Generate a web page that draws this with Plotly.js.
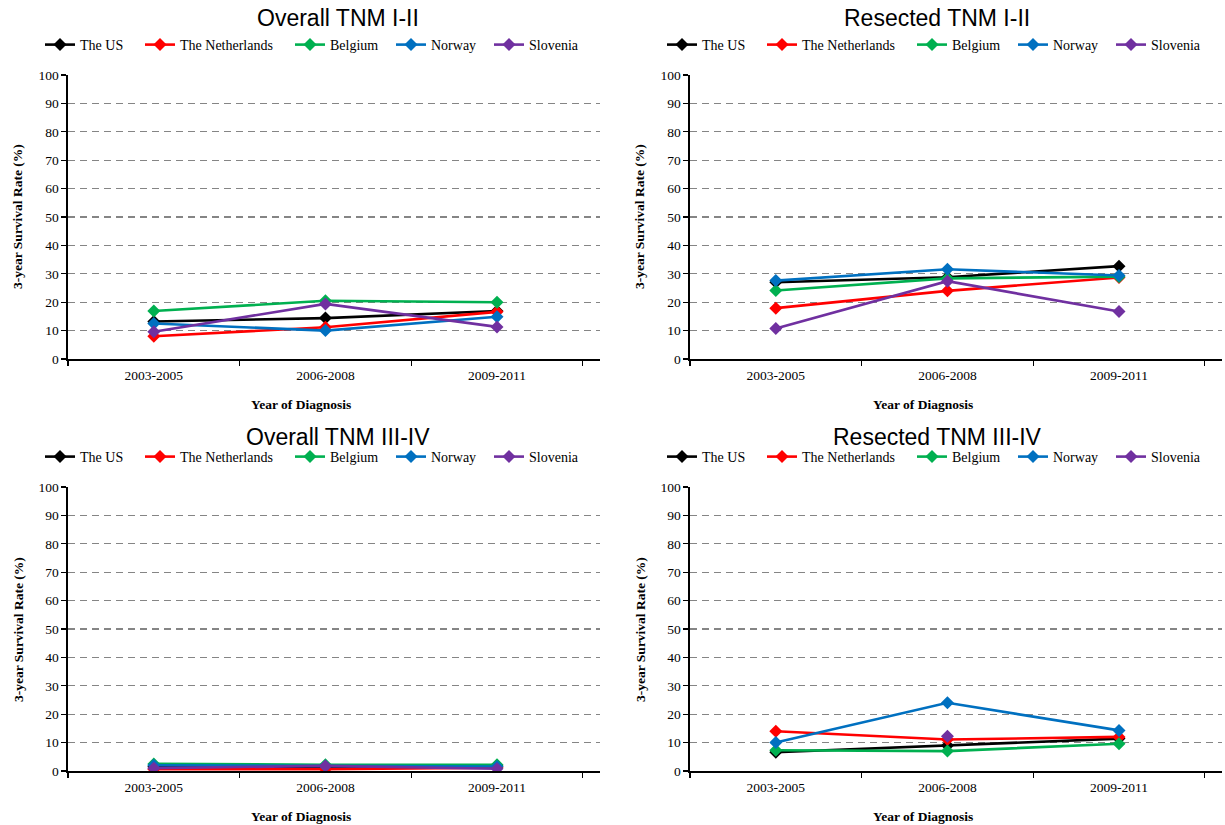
<!DOCTYPE html>
<html>
<head>
<meta charset="utf-8">
<script src="https://cdn.plot.ly/plotly-3.0.1.min.js"></script>
<style>html,body{margin:0;padding:0;background:#fff;}#chart{width:1225px;height:825px;}</style>
</head>
<body>
<div id="chart"></div>
<script>
// ---- data ----
const periods = ["2003-2005", "2006-2008", "2009-2011"];
const countries = ["The US", "The Netherlands", "Belgium", "Norway", "Slovenia"];
const colors = ["#000000", "#FF0000", "#00B050", "#0070C0", "#7030A0"];
const panelTitles = ["Overall TNM I-II", "Resected TNM I-II", "Overall TNM III-IV", "Resected TNM III-IV"];

// Overall TNM I-II
const overallI_US = [13.2, 14.4, 16.9];
const overallI_NL = [8.0, 11.2, 16.6];
const overallI_BE = [16.9, 20.5, 20.0];
const overallI_NO = [12.5, 10.0, 14.9];
const overallI_SI = [9.6, 19.4, 11.3];

// Resected TNM I-II
const resectedI_US = [27.0, 28.8, 32.7];
const resectedI_NL = [17.9, 24.0, 28.7];
const resectedI_BE = [24.1, 28.4, 29.0];
const resectedI_NO = [27.6, 31.6, 29.4];
const resectedI_SI = [10.7, 27.4, 16.7];

// Overall TNM III-IV
const overallIII_US = [1.5, 1.5, 1.8];
const overallIII_NL = [0.6, 0.6, 1.2];
const overallIII_BE = [2.5, 2.2, 2.2];
const overallIII_NO = [2.0, 1.8, 1.6];
const overallIII_SI = [1.0, 1.8, 0.8];

// Resected TNM III-IV
const resectedIII_US = [6.6, 9.0, 11.4];
const resectedIII_NL = [14.0, 11.1, 12.0];
const resectedIII_BE = [7.3, 7.0, 9.6];
const resectedIII_NO = [10.0, 24.0, 14.3];
const resectedIII_SI = [null, 12.2, null];

const panels = [
  [overallI_US, overallI_NL, overallI_BE, overallI_NO, overallI_SI],
  [resectedI_US, resectedI_NL, resectedI_BE, resectedI_NO, resectedI_SI],
  [overallIII_US, overallIII_NL, overallIII_BE, overallIII_NO, overallIII_SI],
  [resectedIII_US, resectedIII_NL, resectedIII_BE, resectedIII_NO, resectedIII_SI]
];

// ---- layout helpers ----
const W = 1225, H = 825;
const px = v => v / W;
const py = v => 1 - v / H;
const serif = "Liberation Serif, Times New Roman, serif";
const sans = "Liberation Sans, Arial, sans-serif";

const xDomains = [[px(68), px(600)], [px(690), px(1222)], [px(68), px(600)], [px(690), px(1222)]];
const yDomains = [[py(359), py(75)], [py(359), py(75)], [py(771), py(487)], [py(771), py(487)]];
const legendStartX = [40, 662, 40, 662];
const legendY = [45, 45, 457, 457];
const legendOffsets = [0, 100, 250, 351, 449];
const titlePos = [[px(338), py(18)], [px(937), py(18)], [px(338), py(437)], [px(937), py(437)]];
const yTitlePos = [[px(18), py(217)], [px(640), py(217)], [px(18), py(630)], [px(640), py(630)]];
const xTitlePos = [[px(301), py(404)], [px(923), py(404)], [px(301), py(816)], [px(923), py(816)]];

const traces = [];
const layout = {
  width: W, height: H,
  margin: {l: 0, r: 0, t: 0, b: 0},
  showlegend: true,
  paper_bgcolor: "#ffffff",
  plot_bgcolor: "#ffffff",
  font: {family: serif, size: 13, color: "#000"},
  annotations: []
};

let legendCount = 0;
panels.forEach((series, p) => {
  const sfx = p === 0 ? "" : String(p + 1);
  series.forEach((vals, i) => {
    legendCount += 1;
    const legName = "legend" + (legendCount === 1 ? "" : String(legendCount));
    traces.push({
      type: "scatter",
      mode: "lines+markers",
      x: periods,
      y: vals,
      name: countries[i],
      xaxis: "x" + sfx,
      yaxis: "y" + sfx,
      legend: legName,
      showlegend: true,
      line: {color: colors[i], width: 2.6},
      marker: {symbol: "diamond", size: 10, color: colors[i]},
      connectgaps: false,
      hoverinfo: "x+y+name"
    });
    layout[legName] = {
      orientation: "h",
      x: px(legendStartX[p] + legendOffsets[i]), y: py(legendY[p]),
      xanchor: "left", yanchor: "middle",
      xref: "paper", yref: "paper",
      font: {family: serif, size: 14, color: "#000"},
      bgcolor: "rgba(0,0,0,0)",
      itemwidth: 30,
      borderwidth: 0,
      visible: true
    };
  });
  layout["xaxis" + sfx] = {
    domain: xDomains[p],
    anchor: "y" + sfx,
    type: "category",
    range: [-0.5, 2.6],
    tickson: "boundaries",
    ticks: "outside",
    ticklen: 5,
    tickwidth: 1.3,
    tickcolor: "#000",
    ticklabelstandoff: 3,
    showline: true,
    linecolor: "#000",
    linewidth: 1.6,
    showgrid: false,
    zeroline: false,
    fixedrange: true,
    tickfont: {family: serif, size: 13.5, color: "#000"}
  };
  layout["yaxis" + sfx] = {
    domain: yDomains[p],
    anchor: "x" + sfx,
    range: [0, 100],
    dtick: 10,
    tick0: 0,
    ticks: "outside",
    ticklen: 5,
    tickwidth: 1.3,
    tickcolor: "#000",
    showline: true,
    linecolor: "#000",
    linewidth: 1.6,
    showgrid: true,
    gridcolor: "#858585",
    gridwidth: 1.3,
    griddash: "7px,5px",
    zeroline: false,
    fixedrange: true,
    tickfont: {family: serif, size: 13.5, color: "#000"}
  };
  layout.annotations.push({
    text: panelTitles[p], xref: "paper", yref: "paper",
    x: titlePos[p][0], y: titlePos[p][1], xanchor: "center", yanchor: "middle",
    showarrow: false, font: {family: sans, size: 23, color: "#000"}
  });
  layout.annotations.push({
    text: "<b>3-year Survival Rate (%)</b>", xref: "paper", yref: "paper",
    x: yTitlePos[p][0], y: yTitlePos[p][1], xanchor: "center", yanchor: "middle",
    textangle: -90, showarrow: false, font: {family: serif, size: 13.5, color: "#000"}
  });
  layout.annotations.push({
    text: "<b>Year of Diagnosis</b>", xref: "paper", yref: "paper",
    x: xTitlePos[p][0], y: xTitlePos[p][1], xanchor: "center", yanchor: "middle",
    showarrow: false, font: {family: serif, size: 13.5, color: "#000"}
  });
});

Plotly.newPlot("chart", traces, layout, {displayModeBar: false, staticPlot: true});
</script>
</body>
</html>
